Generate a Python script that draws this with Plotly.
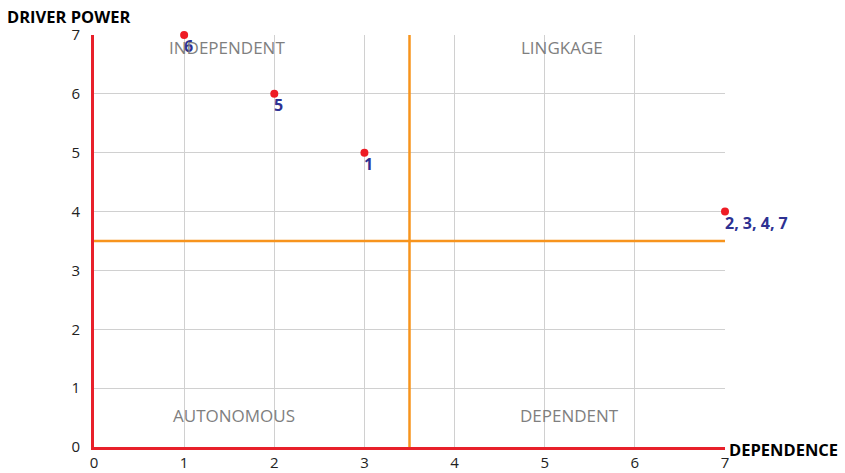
import plotly.graph_objects as go

dependence = [1, 2, 3, 7]
driver_power = [7, 6, 5, 4]
point_labels = ["6", "5", "1", "2, 3, 4, 7"]

quadrant_names = ["INDEPENDENT", "LINGKAGE", "AUTONOMOUS", "DEPENDENT"]
quadrant_x = [1.48, 5.19, 1.55, 5.27]
quadrant_y = [6.79, 6.79, 0.54, 0.54]

split_x = 3.5
split_y = 3.5
ticks = [0, 1, 2, 3, 4, 5, 6, 7]

fig = go.Figure()

fig.add_trace(go.Scatter(
    x=dependence, y=driver_power, mode="markers",
    marker=dict(color="#ee1c25", size=8),
    cliponaxis=False, showlegend=False,
))

for lx, ly, lt in zip(dependence, driver_power, point_labels):
    fig.add_annotation(x=lx, y=ly, text="<b>" + lt + "</b>", showarrow=False,
                       xanchor="left", yanchor="top", xshift=-2, yshift=2,
                       font=dict(family="Open Sans", size=16, color="#2e3192"))

fig.add_shape(type="line", x0=split_x, x1=split_x, y0=0, y1=7,
              line=dict(color="#f7941d", width=2.5))
fig.add_shape(type="line", x0=0, x1=7, y0=split_y, y1=split_y,
              line=dict(color="#f7941d", width=2.5))

for name, qx, qy in zip(quadrant_names, quadrant_x, quadrant_y):
    fig.add_annotation(x=qx, y=qy, text=name, showarrow=False,
                       font=dict(family="Open Sans", size=17, color="#7f7f7f"))

fig.add_annotation(xref="paper", yref="paper", x=-0.141, y=1.046, xanchor="left",
                   yanchor="middle", text="<b>DRIVER POWER</b>", showarrow=False,
                   font=dict(family="Open Sans", size=16.5, color="#000000"))
fig.add_annotation(xref="paper", yref="paper", x=1.003, y=-0.005, xanchor="left",
                   yanchor="middle", text="<b>DEPENDENCE</b>", showarrow=False,
                   font=dict(family="Open Sans", size=16.5, color="#000000"))

fig.update_xaxes(range=[0, 7], tickvals=ticks, showgrid=True, gridcolor="#d0d0d0",
                 gridwidth=1, zeroline=False, showline=True, linecolor="#e8202a",
                 linewidth=3, ticks="", automargin=False,
                 tickfont=dict(family="Open Sans", size=15, color="#222"))
fig.update_yaxes(range=[0, 7], tickvals=ticks, showgrid=True, gridcolor="#d0d0d0",
                 gridwidth=1, zeroline=False, showline=True, linecolor="#e8202a",
                 linewidth=3, ticks="", ticklabelstandoff=8, automargin=False,
                 tickfont=dict(family="Open Sans", size=15, color="#222"))

fig.update_layout(width=845, height=473, margin=dict(l=94, r=120, t=35, b=26),
                  plot_bgcolor="white", paper_bgcolor="white")

fig.write_html("out.html", config={"displayModeBar": False},
               post_script="document.body.style.margin='0';")
